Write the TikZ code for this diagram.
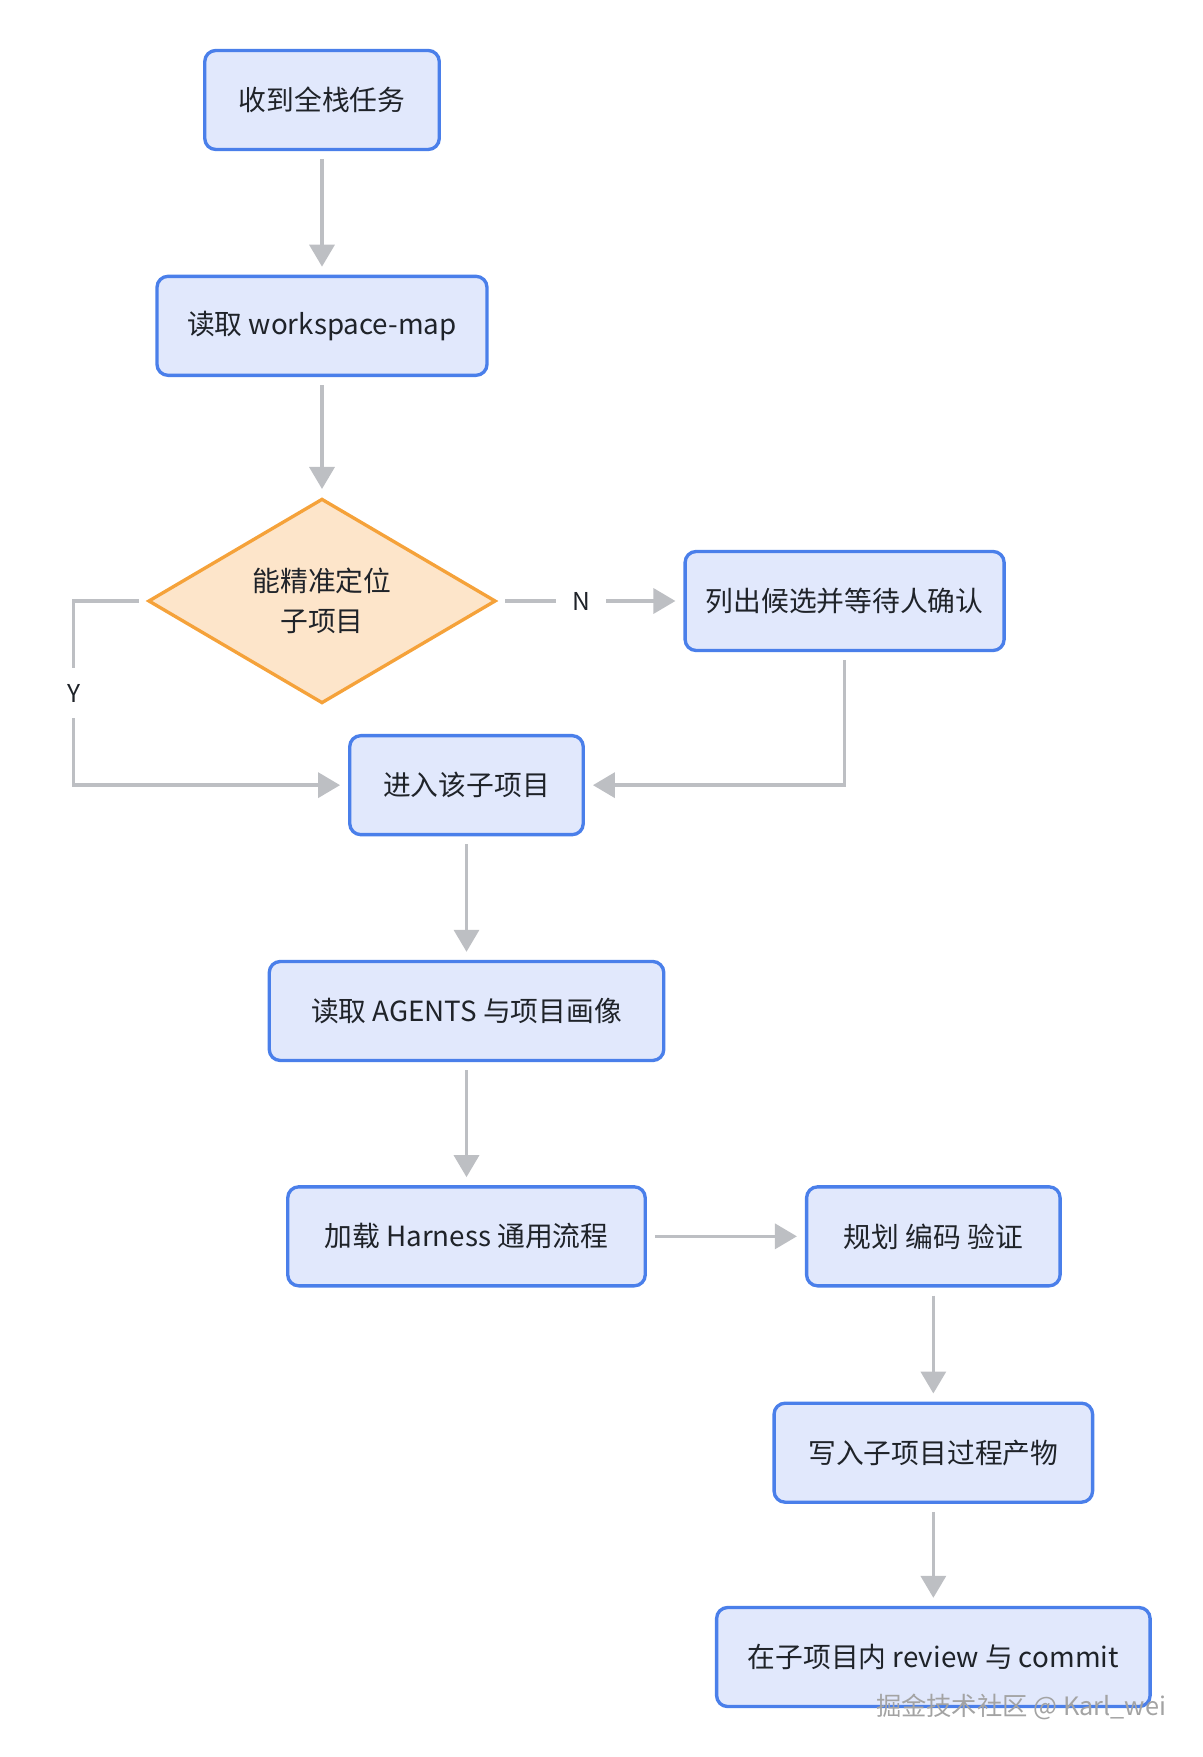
\documentclass[tikz,border=0pt]{standalone}
\usepackage{fontspec}
\setmainfont{Noto Sans CJK SC}
\usepackage{tikz}
\usetikzlibrary{calc, positioning, arrows.meta, shapes.geometric}
\definecolor{boxline}{HTML}{4A7FEA}
\definecolor{boxfill}{HTML}{E1E8FC}
\definecolor{decline}{HTML}{F5A23A}
\definecolor{decfill}{HTML}{FDE5CA}
\definecolor{flowgray}{HTML}{BDBFC3}
\definecolor{txt}{HTML}{1F2329}
\definecolor{markgray}{HTML}{A3A3A3}

\begin{document}
\begin{tikzpicture}[node distance=2.47cm,
	box/.style={draw=boxline, fill=boxfill, line width=1.9pt, rounded corners=0.22cm, minimum height=1.98cm, text=txt, font=\fontsize{15.8}{19}\selectfont},
	decide/.style={diamond, draw=decline, fill=decfill, line width=1.9pt, minimum width=6.95cm, minimum height=4.07cm, inner sep=0pt, align=center, text=txt, font=\fontsize{15.8}{22.8}\selectfont},
	flow/.style={draw=flowgray, line width=2pt, -{Triangle[width=0.5cm,length=0.44cm]}, shorten <=0.16cm, shorten >=0.16cm},
	lbl/.style={fill=white, inner sep=0.32cm, text=txt, font=\fontsize{14}{16}\selectfont}]

	\useasboundingbox (0,0) rectangle (24.04,-35.14);

	% nodes - main column %
	\node[box, minimum width=4.69cm] at (6.44,-2.0) (recv) {收到全栈任务};
	\node[box, minimum width=6.6cm, below=of recv] (readmap) {读取 workspace-map};
	\node[decide, below=2.4cm of readmap] (locate) {能精准定位\\子项目};
	\node[box, minimum width=6.38cm, right=3.72cm of locate] (listc) {列出候选并等待人确认};
	\node[box, minimum width=4.67cm, below=0.58cm of locate, xshift=2.89cm] (enter) {进入该子项目};
	\node[box, minimum width=7.89cm, below=of enter] (agents) {读取 AGENTS 与项目画像};
	\node[box, minimum width=7.15cm, below=2.46cm of agents] (harness) {加载 Harness 通用流程};

	% nodes - right column %
	\node[box, minimum width=5.07cm, right=3.16cm of harness] (plan) {规划 编码 验证};
	\node[box, minimum width=6.37cm, below=2.28cm of plan] (write) {写入子项目过程产物};
	\node[box, minimum width=8.67cm, below=2.04cm of write] (commit) {在子项目内 review 与 commit};
	\coordinate[left=1.46cm of locate.west] (yturn);

	% edges %
	\draw[flow] (recv) -- (readmap);
	\draw[flow] (readmap) -- (locate);
	\draw[flow] (locate.east) -- node[lbl, pos=0.45] {N} (listc.west);
	\draw[flow] (locate.west) -- (yturn) -- node[lbl] {Y} (yturn |- enter.west) -- (enter.west);
	\draw[flow] (listc.south) |- (enter.east);
	\draw[flow] (enter) -- (agents);
	\draw[flow] (agents) -- (harness);
	\draw[flow] (harness) -- (plan);
	\draw[flow] (plan) -- (write);
	\draw[flow] (write) -- (commit);

	% watermark %
	\node[text=markgray, font=\fontsize{14.4}{16}\selectfont] at (20.42,-34.14) (mark) {掘金技术社区 @ Karl\_wei};

\end{tikzpicture}
\end{document}
